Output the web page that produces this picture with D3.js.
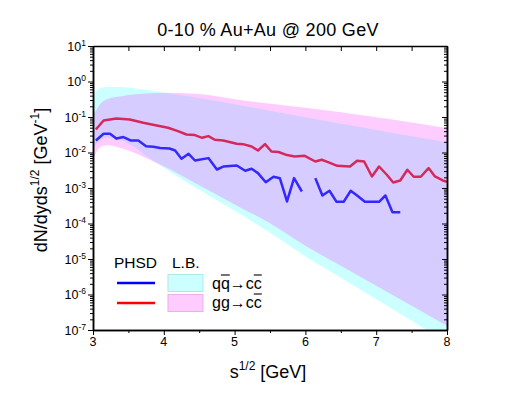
<!DOCTYPE html>
<html>
<head>
<meta charset="utf-8">
<script src="https://cdn.jsdelivr.net/npm/d3@7"></script>
<style>
body { margin: 0; background: #fff; }
text { font-family: "Liberation Sans", Arial, sans-serif; fill: #000; }
</style>
</head>
<body>
<svg id="chart" width="518" height="396"></svg>
<script>
// PHSD gg -> c cbar (red)
const ggS   = [3.04, 3.15, 3.33, 3.52, 3.71, 3.90, 4.06, 4.20, 4.32, 4.44, 4.54, 4.63, 4.72, 4.84, 5.03, 5.12, 5.24, 5.33, 5.43, 5.52, 5.62, 5.74, 5.85, 5.99, 6.14, 6.23, 6.32, 6.45, 6.63, 6.73, 6.83, 6.94, 7.04, 7.15, 7.24, 7.34, 7.44, 7.53, 7.63, 7.74, 7.83, 7.94, 8.00];
const ggVal = [0.0445, 0.0797, 0.0908, 0.0851, 0.0687, 0.0577, 0.0497, 0.0401, 0.0321, 0.0309, 0.0259, 0.0290, 0.0228, 0.0218, 0.0176, 0.0172, 0.0148, 0.0114, 0.0172, 0.0107, 0.0103, 0.00845, 0.00771, 0.00807, 0.00557, 0.00623, 0.00537, 0.00422, 0.00403, 0.00584, 0.00557, 0.00211, 0.00403, 0.00236, 0.00143, 0.00163, 0.00326, 0.00207, 0.00207, 0.00364, 0.00211, 0.00163, 0.00150];

// PHSD q qbar -> c cbar (blue), null = gap
const qqS   = [3.04, 3.15, 3.24, 3.33, 3.43, 3.53, 3.64, 3.75, 3.85, 3.95, 4.08, 4.16, 4.25, 4.35, 4.44, 4.63, 4.75, 4.84, 5.03, 5.15, 5.24, 5.33, 5.44, 5.55, 5.64, 5.74, 5.84, 5.95, 6.05, 6.14, 6.24, 6.34, 6.44, 6.54, 6.64, 6.73, 6.84, 7.04, 7.13, 7.23, 7.34];
const qqVal = [0.0218, 0.0336, 0.0336, 0.0248, 0.0272, 0.0218, 0.0218, 0.0151, 0.0145, 0.0133, 0.0130, 0.0114, 0.00665, 0.00919, 0.00595, 0.00695, 0.00332, 0.00403, 0.00431, 0.00305, 0.00347, 0.00263, 0.00145, 0.00207, 0.00188, 0.000417, 0.00190, 0.000797, null, 0.00190, 0.000615, 0.000834, 0.000408, 0.000408, 0.000834, 0.000615, 0.000408, 0.000408, 0.000615, 0.000207, 0.000207];

// L.B. bands
const bandS  = [3.0, 3.05, 3.1, 3.2, 3.4, 3.6, 3.8, 4.0, 4.5, 5.0, 5.5, 6.0, 6.5, 7.0, 7.5, 8.0];
const qqHigh = [0.371, 0.547, 0.643, 0.700, 0.695, 0.631, 0.554, 0.480, 0.341, 0.228, 0.150, 0.0987, 0.0643, 0.0430, 0.0286, 0.0193];
const qqLow  = [0.0119, 0.0176, 0.0221, 0.0259, 0.0221, 0.0136, 0.00687, 0.00371, 0.000890, 0.000228, 5.47e-5, 1.18e-5, 2.95e-6, 7.32e-7, 1.83e-7, 4.56e-8];
const ggHigh = [0.115, 0.160, 0.228, 0.315, 0.383, 0.436, 0.465, 0.480, 0.442, 0.315, 0.235, 0.182, 0.136, 0.098, 0.0695, 0.0481];
const ggLow  = [0.00623, 0.0105, 0.0140, 0.0159, 0.0131, 0.00949, 0.00623, 0.00408, 0.00119, 0.000345, 0.000101, 2.36e-5, 6.43e-6, 1.76e-6, 4.81e-7, 1.31e-7];

const xTicks = [3, 4, 5, 6, 7, 8];
const yExps = [-7, -6, -5, -4, -3, -2, -1, 0, 1];

const svg = d3.select("#chart");
const plotL = 93, plotR = 447, plotT = 46, plotB = 330;

const x = d3.scaleLinear().domain([3, 8]).range([plotL, plotR]);
const y = d3.scaleLog().domain([1e-7, 10]).range([plotB, plotT]);

svg.append("defs").append("clipPath").attr("id", "plotclip")
  .append("rect").attr("x", plotL).attr("y", plotT).attr("width", plotR - plotL).attr("height", plotB - plotT);

const plot = svg.append("g").attr("clip-path", "url(#plotclip)");

const line = d3.line()
  .defined(d => d.v != null)
  .x(d => x(d.s))
  .y(d => y(d.v));

const qqData = qqS.map((s, i) => ({s: s, v: qqVal[i]}));
const ggData = ggS.map((s, i) => ({s: s, v: ggVal[i]}));

plot.append("path").datum(qqData).attr("fill", "none").attr("stroke", "#0000ff")
  .attr("stroke-width", 2.5).attr("stroke-linejoin", "round").attr("d", line);
plot.append("path").datum(ggData).attr("fill", "none").attr("stroke", "#ff0000")
  .attr("stroke-width", 2.5).attr("stroke-linejoin", "round").attr("d", line);

const area = d3.area()
  .x(d => x(d.s))
  .y0(d => y(d.lo))
  .y1(d => y(d.hi))
  .curve(d3.curveMonotoneX);

const qqBand = bandS.map((s, i) => ({s: s, lo: qqLow[i], hi: qqHigh[i]}));
const ggBand = bandS.map((s, i) => ({s: s, lo: ggLow[i], hi: ggHigh[i]}));

plot.append("path").datum(qqBand).attr("fill", "#00ffff").attr("fill-opacity", 0.2).attr("d", area);
plot.append("path").datum(ggBand).attr("fill", "#ff00ff").attr("fill-opacity", 0.2).attr("d", area);

// axes
const minorX = d3.range(3.5, 8, 1);
const minorY = y.ticks().filter(v => Math.abs(Math.log10(v) - Math.round(Math.log10(v))) > 1e-6);
const majorY = yExps.map(e => Math.pow(10, e));

function styleAxis(g) {
  g.select(".domain").attr("stroke", "#000").attr("stroke-width", 1.5);
  g.selectAll(".tick line").attr("stroke", "#000").attr("stroke-width", 1);
  g.selectAll(".tick text").remove();
}

svg.append("g").attr("transform", `translate(0,${plotB})`)
  .call(d3.axisBottom(x).tickValues(xTicks).tickSize(5).tickSizeOuter(0)).call(styleAxis);
svg.append("g").attr("transform", `translate(0,${plotB})`)
  .call(d3.axisBottom(x).tickValues(minorX).tickSize(3).tickSizeOuter(0)).call(styleAxis);
svg.append("g").attr("transform", `translate(0,${plotT})`)
  .call(d3.axisTop(x).tickValues(xTicks.concat(minorX)).tickSize(-5).tickSizeOuter(0)).call(styleAxis);

svg.append("g").attr("transform", `translate(${plotL},0)`)
  .call(d3.axisLeft(y).tickValues(majorY).tickSize(5).tickSizeOuter(0)).call(styleAxis);
svg.append("g").attr("transform", `translate(${plotL},0)`)
  .call(d3.axisLeft(y).tickValues(minorY).tickSize(3).tickSizeOuter(0)).call(styleAxis);
svg.append("g").attr("transform", `translate(${plotR},0)`)
  .call(d3.axisRight(y).tickValues(majorY).tickSize(-5).tickSizeOuter(0)).call(styleAxis);
svg.append("g").attr("transform", `translate(${plotR},0)`)
  .call(d3.axisRight(y).tickValues(minorY).tickSize(-3).tickSizeOuter(0)).call(styleAxis);

// tick labels
svg.append("g").selectAll("text").data(xTicks).join("text")
  .attr("x", d => x(d)).attr("y", plotB + 16)
  .attr("text-anchor", "middle").attr("font-size", 12.5)
  .text(d => d);

const yl = svg.append("g").selectAll("text").data(yExps).join("text")
  .attr("x", plotL - 7).attr("y", d => y(Math.pow(10, d)) + 4.5)
  .attr("text-anchor", "end").attr("font-size", 12.5);
yl.append("tspan").text("10");
yl.append("tspan").attr("font-size", 8.5).attr("dy", -5).text(d => d);

// title
svg.append("text").attr("x", 268).attr("y", 36).attr("text-anchor", "middle")
  .attr("font-size", 18).attr("letter-spacing", 0.3).text("0-10 % Au+Au @ 200 GeV");

// x axis title
const xt = svg.append("text").attr("x", 268).attr("y", 378).attr("text-anchor", "middle").attr("font-size", 18);
xt.append("tspan").text("s");
xt.append("tspan").attr("font-size", 12).attr("dy", -8).text("1/2");
xt.append("tspan").attr("dy", 8).text(" [GeV]");

// y axis title
const yt = svg.append("text").attr("transform", "translate(47,180) rotate(-90)")
  .attr("text-anchor", "middle").attr("font-size", 18);
yt.append("tspan").text("dN/dyds");
yt.append("tspan").attr("font-size", 12).attr("dy", -8).text("1/2");
yt.append("tspan").attr("dy", 8).text(" [GeV");
yt.append("tspan").attr("font-size", 12).attr("dy", -8).text("-1");
yt.append("tspan").attr("dy", 8).text("]");

// legend
const leg = svg.append("g");
leg.append("text").attr("x", 114).attr("y", 268).attr("font-size", 15.5).text("PHSD");
leg.append("text").attr("x", 172).attr("y", 268).attr("font-size", 15.5).text("L.B.");
leg.append("line").attr("x1", 117).attr("x2", 155).attr("y1", 283).attr("y2", 283)
  .attr("stroke", "#0000ff").attr("stroke-width", 2.5);
leg.append("line").attr("x1", 117).attr("x2", 155).attr("y1", 303).attr("y2", 303)
  .attr("stroke", "#ff0000").attr("stroke-width", 2.5);
leg.append("rect").attr("x", 168).attr("y", 274.5).attr("width", 35).attr("height", 17)
  .attr("fill", "#ccffff").attr("stroke", "#aee8e8").attr("stroke-width", 1);
leg.append("rect").attr("x", 168).attr("y", 294.5).attr("width", 35).attr("height", 17)
  .attr("fill", "#ffccff").attr("stroke", "#eab0ea").attr("stroke-width", 1);

// label text with overlined characters (indexes in bars)
const legLabels = [
  {text: "qq\u2192cc", bars: [1, 4], y: 288.5},
  {text: "gg\u2192cc", bars: [4], y: 307.5}
];
legLabels.forEach(l => {
  const t = leg.append("text").attr("x", 212).attr("y", l.y).attr("font-size", 16).text(l.text);
  const node = t.node();
  l.bars.forEach(i => {
    const a = node.getStartPositionOfChar(i).x;
    const b = node.getEndPositionOfChar(i).x;
    leg.append("line").attr("x1", a).attr("x2", b)
      .attr("y1", l.y - 13.5).attr("y2", l.y - 13.5)
      .attr("stroke", "#000").attr("stroke-width", 1.1);
  });
});
</script>
</body>
</html>
